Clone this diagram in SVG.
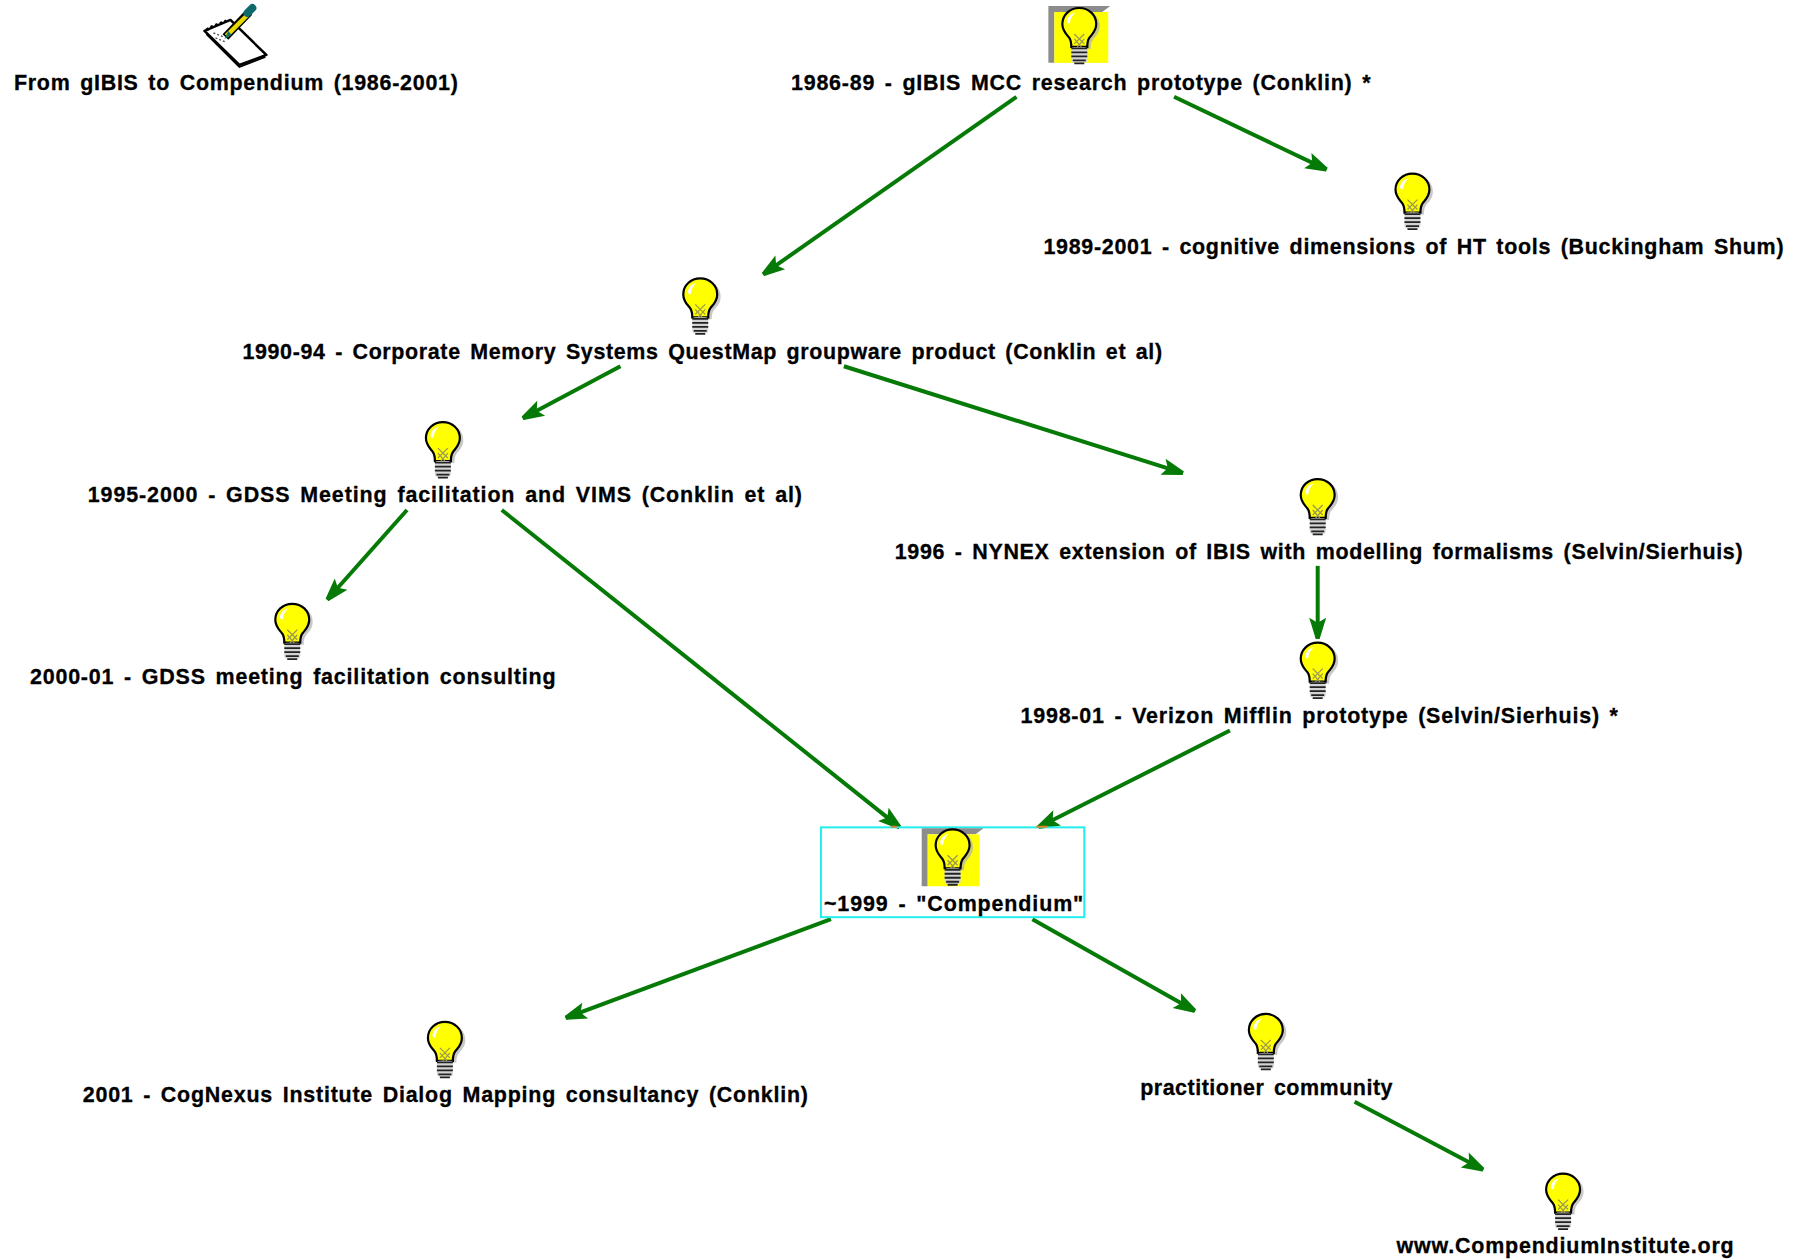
<svg xmlns="http://www.w3.org/2000/svg" xmlns:xlink="http://www.w3.org/1999/xlink" width="1801" height="1259" viewBox="0 0 1801 1259">
<style>
text{font-family:"Liberation Sans",Arial,sans-serif;font-weight:700;font-size:21.5px;word-spacing:3px;fill:#000;stroke:#000;stroke-width:.3}
.c{fill:none;stroke:#067a06;stroke-width:4;marker-end:url(#ah)}
.hl{fill:#ffff00}
.sh{fill:#8c8c8c}
</style>
<defs>
<marker id="ah" markerUnits="userSpaceOnUse" markerWidth="26" markerHeight="22" refX="24" refY="11" orient="auto">
<path d="M24 9V13L3 19.500L8 11L3 2.500Z" fill="#067a06"/>
</marker>
<symbol id="bulb" width="40" height="60" viewBox="0 0 40 60" overflow="visible">
<path d="M20 3C10 3 3 10 3 19C3 26 7 29 10 33C12 36 12 39 12 42H28C28 39 28 36 30 33C33 29 37 26 37 19C37 10 30 3 20 3Z" fill="#b0b0b0" transform="translate(2.500 1)" opacity=".7"/>
<path d="M19 2C9.500 2 2 9 2 18C2 25 6 28 9 32C11 35 11 38 11 41H27C27 38 27 35 29 32C32 28 36 25 36 18C36 9 28.500 2 19 2Z" fill="#ffff00" stroke="#000" stroke-width="2.200"/>
<path d="M6.500 15C8 9.500 11 7.500 15 6.500C11.500 10 10 13 9.500 17.500C8 18 6.500 17 6.500 15Z" fill="#fff"/>
<path d="M14 28L24 38M24 28L14 38M14 33L21 41M24 33L17 41" stroke="#9a9a50" stroke-width="1.300" fill="none"/>
<rect x="11" y="41" width="16" height="16" rx="3" fill="#d4d4d4"/>
<path d="M11 42.500H27M11 46.500H27M11 50.500H27M12.500 54.500H25.500M14 57.500H24" stroke="#222" stroke-width="1.800" fill="none"/>
</symbol>
</defs>
<rect width="1801" height="1259" fill="#fff"/>
<g transform="scale(.9975 .998)">
<g id="connectors">
<path class="c" d="M1019 97L765 275"/>
<path class="c" d="M1177 97L1330 170"/>
<path class="c" d="M622 367L524 419"/>
<path class="c" d="M846 367L1186 474"/>
<path class="c" d="M408 511L328 601"/>
<path class="c" d="M503 511L902 829"/>
<path class="c" d="M1321 567V640"/>
<path class="c" d="M1233 732L1041 829"/>
<path class="c" d="M833 921L567 1020"/>
<path class="c" d="M1035 921L1198 1013"/>
<path class="c" d="M1358 1104L1487 1172"/>
</g>
<g id="n0">
<path d="M205 31L231 20L267 55L240 65Z" fill="#fff" stroke="#000" stroke-width="2.500" stroke-linejoin="round"/>
<path d="M207 34L240 67L266 57" fill="none" stroke="#000" stroke-width="2"/>
<path d="M207 30l5-3 5-2 5-2 5-2" fill="none" stroke="#000" stroke-width="3" stroke-dasharray="2.500 2.500"/>
<path d="M214 33l10 4M216 38l10 4" stroke="#555" stroke-width="1.500" stroke-dasharray="2 2"/>
<path d="M226 37L250 12" stroke="#000" stroke-width="8"/>
<path d="M227 36L250 13" stroke="#e6d800" stroke-width="4.500"/>
<path d="M248 13L253 8" stroke="#0e6a6a" stroke-width="8" stroke-linecap="round"/>
<path d="M225 39L229 31L232 35Z" fill="#087070"/>
<text x="14" y="90" textLength="445">From gIBIS to Compendium (1986-2001)</text>
</g>
<g id="n1">
<path class="sh" d="M1051 6H1113L1105 12H1057V63H1051Z"/>
<rect class="hl" x="1057" y="12" width="54" height="51"/>
<use href="#bulb" x="1063" y="6"/>
<text x="793" y="90" textLength="581">1986-89 - gIBIS MCC research prototype (Conklin) *</text>
</g>
<g id="n2">
<use href="#bulb" x="1397" y="172"/>
<text x="1046" y="255" textLength="742">1989-2001 - cognitive dimensions of HT tools (Buckingham Shum)</text>
</g>
<g id="n3">
<use href="#bulb" x="683" y="277"/>
<text x="243" y="360" textLength="922">1990-94 - Corporate Memory Systems QuestMap groupware product (Conklin et al)</text>
</g>
<g id="n4">
<use href="#bulb" x="425" y="421"/>
<text x="88" y="503" textLength="716">1995-2000 - GDSS Meeting facilitation and VIMS (Conklin et al)</text>
</g>
<g id="n5">
<use href="#bulb" x="1302" y="478"/>
<text x="897" y="560" textLength="850">1996 - NYNEX extension of IBIS with modelling formalisms (Selvin/Sierhuis)</text>
</g>
<g id="n6">
<use href="#bulb" x="274" y="603"/>
<text x="30" y="685" textLength="527">2000-01 - GDSS meeting facilitation consulting</text>
</g>
<g id="n7">
<use href="#bulb" x="1302" y="642"/>
<text x="1023" y="724" textLength="599">1998-01 - Verizon Mifflin prototype (Selvin/Sierhuis) *</text>
</g>
<g id="n8">
<rect x="823" y="829" width="264" height="90" fill="none" stroke="#22eeee" stroke-width="2"/>
<path d="M893 828.500H899M1039 828.500H1050" stroke="#e08020" stroke-width="2"/>
<path class="sh" d="M924 830H986L978 836H930V888H924Z"/>
<rect class="hl" x="930" y="836" width="52" height="52"/>
<use href="#bulb" x="936" y="829"/>
<text x="826" y="913" textLength="260">~1999 - "Compendium"</text>
</g>
<g id="n9">
<use href="#bulb" x="427" y="1022"/>
<text x="83" y="1104" textLength="727">2001 - CogNexus Institute Dialog Mapping consultancy (Conklin)</text>
</g>
<g id="n10">
<use href="#bulb" x="1250" y="1014"/>
<text x="1143" y="1097" textLength="253">practitioner community</text>
</g>
<g id="n11">
<use href="#bulb" x="1548" y="1174"/>
<text x="1400" y="1256" textLength="338">www.CompendiumInstitute.org</text>
</g>
</g>
</svg>
